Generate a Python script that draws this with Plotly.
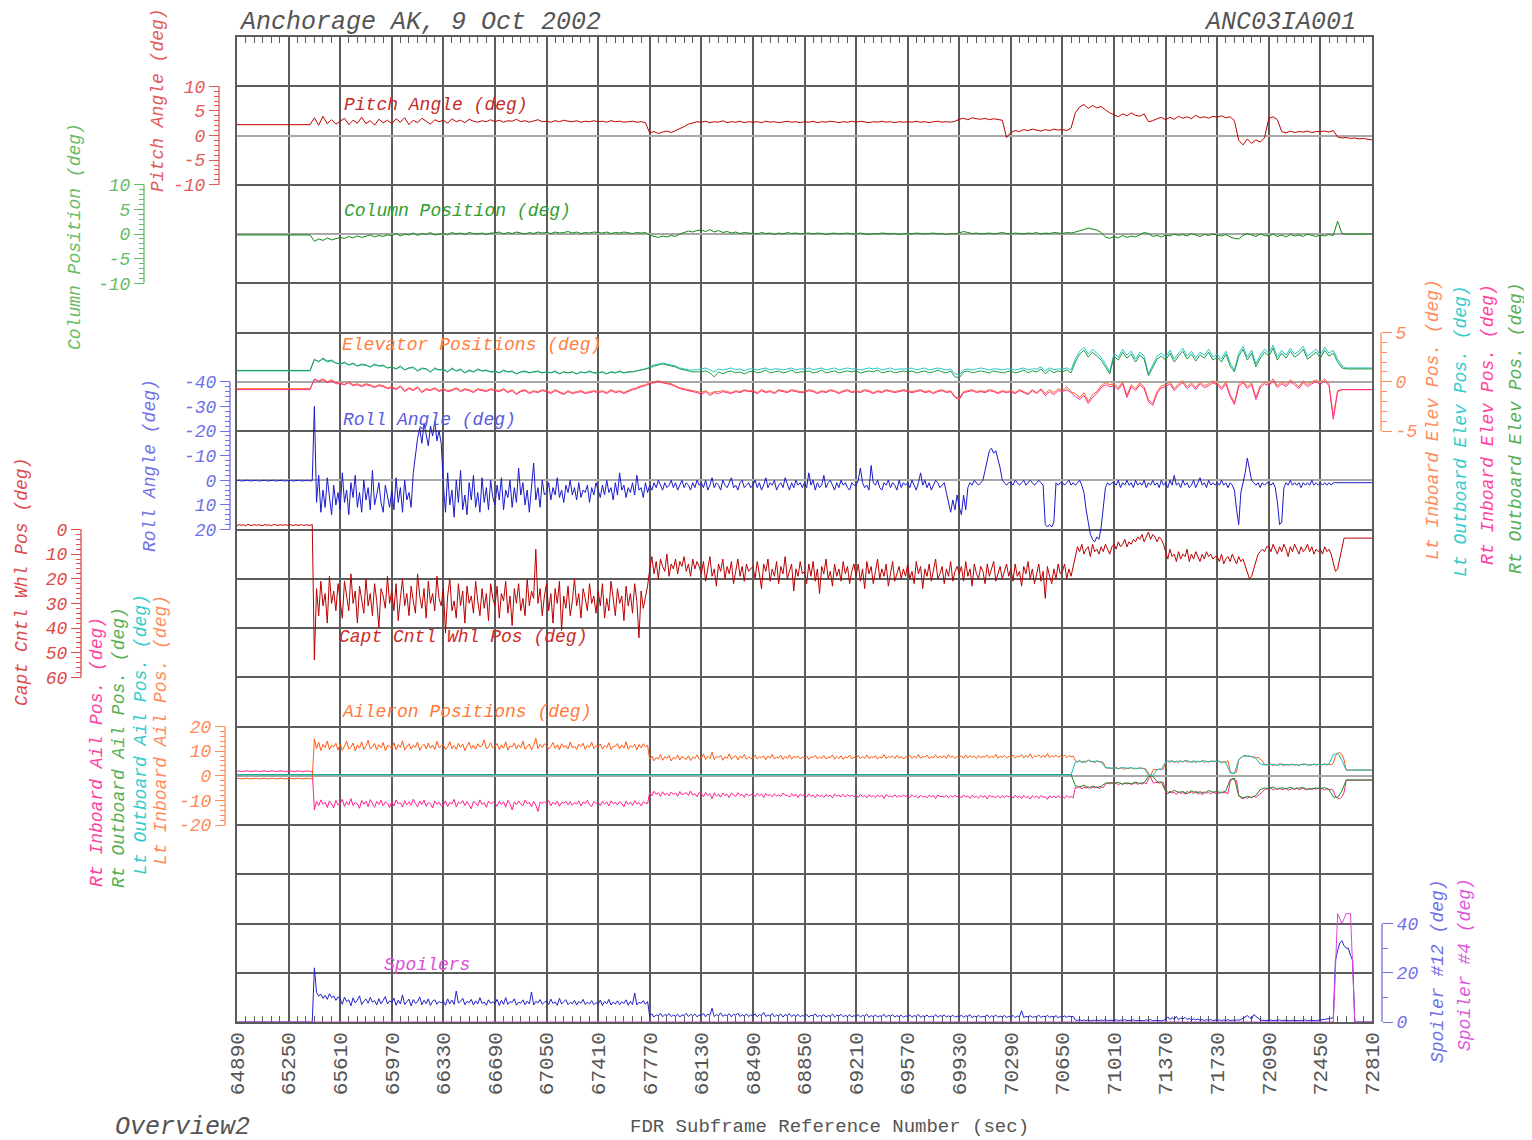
import plotly.graph_objects as go

# ---------------- data ----------------
# Two FDR sample spacings are used: 30 s for the smoother parameters and 15 s for the
# noisier ones. Each row of a list covers one 360-s grid cell.
T0 = 64890
STEP_SLOW = 30
STEP_FAST = 15
x_tick_vals = list(range(64890, 72811, 360))

pitch_deg = [  # 30 s
2.2,2.2,2.2,2.2,2.2,2.2,2.2,2.2,2.2,2.2,2.2,2.2,
2.2,2.2,2.2,2.2,2.2,2.2,3.6,2.1,3.9,2.4,3.2,2.3,
2.9,3.5,2.2,3.1,2.5,3.7,2.4,3.0,2.1,3.3,2.6,3.1,
2.4,3.4,2.7,3.6,2.2,3.1,2.6,3.5,2.9,2.3,3.2,2.8,
3.1,2.5,3.4,2.8,3.1,2.6,3.3,2.9,2.7,3.0,2.8,3.2,
2.8,3.1,2.7,3.0,2.9,3.3,2.8,3.0,2.7,2.9,3.2,2.8,
2.9,2.7,3.0,2.8,3.1,2.9,2.8,3.0,2.7,2.9,2.8,3.0,
2.8,2.9,2.7,3.0,2.8,2.9,2.7,2.8,2.9,2.7,2.8,2.6,
0.5,0.8,0.4,0.7,0.9,0.6,1.0,1.3,1.8,2.3,2.6,2.8,
2.7,2.9,2.6,2.8,2.7,3.0,2.6,2.8,2.7,2.9,2.6,2.8,
2.7,2.8,2.6,2.9,2.7,2.8,2.6,2.7,2.9,2.7,2.8,2.6,
2.8,2.7,2.9,2.6,2.8,2.7,2.9,2.8,2.6,2.8,2.7,2.9,
2.7,2.9,2.8,2.6,2.8,2.7,2.9,2.7,2.8,2.6,2.8,2.7,
2.8,2.7,2.9,2.7,2.8,2.6,2.8,2.9,2.7,2.8,2.7,2.9,
3.3,3.5,3.2,3.6,3.4,3.3,3.5,3.2,3.4,3.3,3.1,-0.4,
0.6,1.0,0.8,1.2,1.0,1.3,1.1,0.9,1.2,1.0,1.3,1.1,
1.2,1.0,1.5,4.6,5.8,6.3,5.5,6.1,5.6,5.9,5.2,4.6,
4.2,3.8,4.4,4.0,4.6,4.1,3.9,4.4,2.8,3.0,3.4,3.7,
3.2,3.7,3.3,3.9,3.5,3.8,3.4,4.1,3.6,3.8,3.5,3.9,
3.7,4.0,3.6,3.8,3.0,-1.0,-1.9,-0.7,-1.6,-0.9,-1.3,-0.5,
3.5,3.8,3.2,0.8,0.5,0.9,0.6,0.8,0.7,0.9,0.6,0.8,
0.8,0.9,0.7,1.0,-0.3,-0.5,-0.4,-0.6,-0.5,-0.7,-0.6,-0.8,
-0.9]

column_deg = [  # 30 s
-0.2,-0.2,-0.2,-0.2,-0.2,-0.2,-0.2,-0.2,-0.2,-0.2,-0.2,-0.2,
-0.2,-0.2,-0.2,-0.2,-0.2,-0.2,-1.5,-1.0,-1.3,-0.8,-1.2,-0.9,
-0.7,-0.9,-0.5,-0.8,-0.4,-0.7,-0.5,-0.2,-0.6,-0.3,-0.5,-0.2,
-0.3,0.1,-0.4,0.0,-0.2,0.2,-0.3,0.1,-0.1,0.3,-0.2,0.0,
0.1,-0.2,0.3,0.0,0.2,-0.1,0.3,0.1,0.0,0.2,-0.1,0.2,
0.2,0.4,0.0,0.3,0.1,0.4,0.2,0.0,0.3,0.1,0.4,0.2,
0.3,0.1,0.4,0.2,0.3,0.5,0.2,0.4,0.1,0.3,0.2,0.4,
0.3,0.2,0.4,0.1,0.3,0.2,0.4,0.3,0.1,0.3,0.2,0.3,
-0.2,-0.5,-0.7,-0.4,-0.6,-0.3,-0.5,0.0,0.3,0.6,0.4,0.7,
0.8,0.5,0.9,0.4,0.7,0.3,0.5,0.2,0.4,0.1,0.3,0.2,
0.2,0.0,0.3,0.1,0.2,-0.1,0.2,0.0,0.3,0.1,0.2,0.0,
0.1,0.2,0.0,0.2,0.1,-0.1,0.1,0.2,0.0,0.1,0.2,0.0,
0.0,0.2,0.1,-0.1,0.1,0.0,0.2,0.1,0.0,0.1,-0.1,0.1,
0.1,0.0,0.2,0.1,0.0,0.1,0.2,0.0,0.1,-0.1,0.1,0.0,
0.2,0.5,0.3,0.1,0.2,0.0,0.1,0.2,0.0,0.1,0.3,0.1,
0.0,0.2,0.1,0.0,0.2,0.1,0.3,0.0,0.2,0.1,0.3,0.2,
0.1,0.3,0.2,0.4,0.6,0.9,1.2,1.0,0.8,0.3,-0.6,-0.9,
-0.5,-0.8,-0.3,-0.7,-0.4,-0.6,-0.2,0.3,0.1,-0.5,-0.3,-0.6,
-0.2,-0.4,0.0,-0.3,-0.1,-0.4,0.1,-0.2,-0.5,-0.1,-0.3,0.0,
-0.2,-0.4,-0.1,-0.6,-0.9,-1.0,-0.3,0.1,-0.2,-0.5,0.0,-0.3,
-0.4,0.0,-0.5,-0.2,-0.6,-0.1,-0.4,-0.2,-0.5,0.0,-0.3,-0.5,
-0.2,-0.4,-0.1,-0.3,2.6,0.1,0.0,0.0,0.0,0.0,0.0,0.0,
0.0]

elev_rt_outboard = [  # 30 s
1.15,1.15,1.15,1.15,1.15,1.15,1.15,1.15,1.15,1.15,1.15,1.15,
1.15,1.15,1.15,1.15,1.15,1.15,2.3,2.0,2.4,2.1,2.2,1.9,
1.8,2.0,1.7,1.9,1.6,1.8,1.7,1.5,1.8,1.6,1.7,1.4,
1.5,1.3,1.6,1.2,1.4,1.5,1.1,1.4,1.3,1.0,1.4,1.2,
1.3,1.0,1.4,1.1,1.3,0.9,1.2,1.0,1.3,1.1,1.2,1.0,
1.1,0.9,1.2,1.0,1.1,0.8,1.0,1.1,0.9,1.0,1.1,0.9,
1.0,0.9,1.1,0.8,1.0,0.9,1.0,0.8,1.0,0.9,1.1,0.9,
0.9,1.0,0.8,1.0,0.9,1.1,0.9,1.0,1.0,1.1,1.2,1.3,
1.4,1.6,1.7,1.8,1.7,1.6,1.5,1.3,1.2,1.1,1.0,1.0,
1.0,1.1,0.9,0.5,1.0,0.8,1.0,1.1,0.9,1.0,0.8,1.0,
1.1,0.9,1.0,1.2,0.9,1.0,1.1,0.9,1.0,1.2,0.9,1.0,
1.0,1.1,0.9,1.0,1.2,0.9,1.0,1.1,0.9,1.0,1.1,1.0,
1.1,0.9,1.0,1.1,1.0,1.2,0.9,1.0,1.1,0.9,1.0,1.1,
1.0,1.1,0.9,1.0,1.1,0.9,1.0,1.2,1.0,0.9,1.1,0.5,
0.4,1.0,1.1,0.9,1.0,1.1,1.0,0.9,1.1,1.0,0.9,1.0,
1.1,0.9,1.0,1.2,0.9,1.1,1.0,1.3,0.8,1.2,0.9,1.1,
1.0,1.2,0.9,2.0,2.8,3.2,2.5,3.0,2.6,2.2,1.5,0.8,
2.6,2.2,3.0,2.4,2.8,2.0,2.7,2.3,0.6,1.4,2.3,2.6,
2.2,2.9,2.0,2.6,3.1,2.3,2.8,2.1,2.7,2.4,3.0,2.2,
2.5,2.0,2.8,1.6,1.0,2.6,3.3,2.2,2.9,1.5,2.4,3.0,
2.6,3.4,2.2,2.9,2.4,3.1,2.5,2.8,3.3,2.3,2.7,3.0,
2.4,3.2,2.6,2.9,2.0,1.4,1.3,1.3,1.3,1.3,1.3,1.3,
1.3]

elev_lt_outboard = [  # 30 s
1.1,1.1,1.1,1.1,1.1,1.1,1.1,1.1,1.1,1.1,1.1,1.1,
1.1,1.1,1.1,1.1,1.1,1.1,2.2,2.1,2.3,2.0,2.1,1.9,
1.8,1.9,1.7,1.8,1.6,1.7,1.7,1.5,1.7,1.6,1.6,1.4,
1.5,1.3,1.5,1.2,1.4,1.4,1.1,1.3,1.3,1.0,1.3,1.2,
1.2,1.0,1.3,1.1,1.2,0.9,1.1,1.0,1.2,1.1,1.1,1.0,
1.0,0.9,1.1,1.0,1.0,0.8,1.0,1.0,0.9,1.0,1.0,0.9,
1.0,0.9,1.0,0.8,1.0,0.9,1.0,0.8,1.0,0.9,1.0,0.9,
0.9,1.0,0.8,1.0,0.9,1.0,0.9,1.0,1.0,1.1,1.2,1.3,
1.5,1.7,1.8,1.9,1.8,1.7,1.6,1.4,1.3,1.2,1.2,1.2,
1.3,1.4,1.2,1.0,1.3,1.2,1.3,1.4,1.2,1.3,1.1,1.3,
1.3,1.2,1.3,1.4,1.2,1.3,1.3,1.2,1.3,1.4,1.2,1.3,
1.3,1.4,1.2,1.3,1.4,1.2,1.3,1.4,1.2,1.3,1.4,1.3,
1.3,1.2,1.3,1.4,1.3,1.4,1.2,1.3,1.4,1.2,1.3,1.3,
1.3,1.4,1.2,1.3,1.4,1.2,1.3,1.4,1.3,1.2,1.3,0.8,
0.7,1.2,1.3,1.2,1.3,1.4,1.3,1.2,1.3,1.3,1.2,1.3,
1.3,1.2,1.3,1.4,1.2,1.3,1.3,1.5,1.1,1.4,1.2,1.3,
1.3,1.4,1.2,2.3,3.1,3.5,2.8,3.3,2.9,2.5,1.8,1.0,
2.9,2.5,3.3,2.7,3.1,2.3,3.0,2.6,0.8,1.7,2.6,2.9,
2.5,3.2,2.3,2.9,3.4,2.6,3.1,2.4,3.0,2.7,3.3,2.5,
2.8,2.3,3.1,1.9,1.2,2.9,3.6,2.5,3.2,1.8,2.7,3.3,
2.9,3.7,2.5,3.2,2.7,3.4,2.8,3.1,3.6,2.6,3.0,3.3,
2.7,3.5,2.9,3.2,2.3,1.6,1.4,1.4,1.4,1.4,1.4,1.4,
1.4]

elev_rt_inboard = [  # 30 s
-0.8,-0.8,-0.8,-0.8,-0.8,-0.8,-0.8,-0.8,-0.8,-0.8,-0.8,-0.8,
-0.8,-0.8,-0.8,-0.8,-0.8,-0.8,0.3,0.0,0.2,-0.1,0.1,-0.2,
-0.2,-0.3,-0.1,-0.4,-0.3,-0.5,-0.3,-0.4,-0.6,-0.4,-0.5,-0.7,
-0.6,-0.8,-0.5,-1.0,-0.7,-0.9,-0.6,-1.1,-0.8,-0.9,-0.7,-1.0,
-0.8,-1.0,-0.9,-0.7,-1.0,-0.8,-0.9,-1.1,-0.8,-0.9,-1.0,-0.8,
-0.9,-1.0,-0.8,-1.1,-0.9,-1.3,-1.0,-0.9,-1.2,-1.0,-1.1,-0.9,
-1.0,-1.2,-0.9,-1.1,-1.3,-1.0,-1.2,-1.1,-1.0,-1.2,-1.1,-1.0,
-1.1,-1.0,-1.2,-0.9,-1.1,-1.0,-1.2,-1.0,-0.8,-0.7,-0.5,-0.4,
-0.2,-0.1,0.0,-0.1,-0.2,-0.3,-0.5,-0.7,-0.8,-0.9,-1.0,-1.1,
-1.3,-1.0,-1.4,-1.1,-1.2,-1.0,-1.1,-1.2,-1.0,-1.1,-0.9,-1.0,
-1.0,-1.2,-0.9,-1.1,-1.0,-1.2,-0.9,-1.0,-1.1,-0.9,-1.0,-1.1,
-1.1,-0.9,-1.0,-1.2,-1.0,-1.1,-0.9,-1.0,-1.2,-1.0,-0.9,-1.1,
-1.0,-1.1,-0.9,-1.0,-1.2,-1.0,-1.1,-0.9,-1.0,-1.1,-1.0,-0.9,
-1.0,-1.1,-1.0,-0.9,-1.1,-1.0,-1.2,-1.0,-0.9,-1.1,-1.0,-1.6,
-1.8,-1.1,-1.0,-0.9,-1.1,-1.0,-1.1,-0.9,-1.0,-1.2,-1.0,-1.1,
-1.0,-1.2,-0.9,-1.1,-1.3,-0.9,-1.2,-0.8,-1.4,-1.0,-1.3,-0.9,
-1.0,-0.8,-1.1,-1.5,-1.8,-1.4,-2.2,-1.6,-1.2,-0.6,-0.3,-0.5,
-0.4,-0.8,-0.2,-1.6,-0.5,-0.9,-0.3,-0.7,-2.0,-2.4,-1.2,-0.6,
-0.5,-0.2,-0.9,-0.4,-0.1,-0.7,-0.3,-0.8,-0.2,-0.6,-0.4,-0.1,
-0.3,-0.8,-0.2,-1.5,-2.3,-0.5,-0.1,-0.7,-0.3,-1.8,-0.6,-0.2,
-0.4,0.1,-0.6,-0.2,-0.5,0.0,-0.3,-0.7,-0.1,-0.5,-0.2,0.0,
-0.3,0.1,-0.4,-3.8,-1.0,-0.8,-0.8,-0.8,-0.8,-0.8,-0.8,-0.8,
-0.8]

elev_lt_inboard = [  # 30 s
-0.7,-0.7,-0.7,-0.7,-0.7,-0.7,-0.7,-0.7,-0.7,-0.7,-0.7,-0.7,
-0.7,-0.7,-0.7,-0.7,-0.7,-0.7,0.2,0.1,0.3,0.0,0.2,-0.1,
-0.1,-0.3,0.0,-0.3,-0.2,-0.4,-0.2,-0.3,-0.5,-0.3,-0.4,-0.6,
-0.5,-0.7,-0.4,-0.9,-0.6,-0.8,-0.5,-1.0,-0.7,-0.8,-0.6,-0.9,
-0.7,-0.9,-0.8,-0.6,-0.9,-0.7,-0.8,-1.0,-0.7,-0.8,-0.9,-0.7,
-0.8,-0.9,-0.7,-1.0,-0.8,-1.2,-0.9,-0.8,-1.1,-0.9,-1.0,-0.8,
-0.9,-1.1,-0.8,-1.0,-1.2,-0.9,-1.1,-1.0,-0.9,-1.1,-1.0,-0.9,
-1.0,-0.9,-1.1,-0.8,-1.0,-0.9,-1.1,-0.9,-0.7,-0.6,-0.4,-0.3,
-0.1,0.0,0.1,0.0,-0.1,-0.2,-0.4,-0.6,-0.7,-0.8,-0.9,-1.0,
-1.1,-0.9,-1.2,-1.0,-1.0,-0.9,-1.0,-1.1,-0.9,-1.0,-0.8,-0.9,
-0.9,-1.1,-0.8,-1.0,-0.9,-1.1,-0.8,-0.9,-1.0,-0.8,-0.9,-1.0,
-1.0,-0.8,-0.9,-1.1,-0.9,-1.0,-0.8,-0.9,-1.1,-0.9,-0.8,-1.0,
-0.9,-1.0,-0.8,-0.9,-1.1,-0.9,-1.0,-0.8,-0.9,-1.0,-0.9,-0.8,
-0.9,-1.0,-0.9,-0.8,-1.0,-0.9,-1.1,-0.9,-0.8,-1.0,-0.9,-1.5,
-1.7,-1.0,-0.9,-0.8,-1.0,-0.9,-1.0,-0.8,-0.9,-1.1,-0.9,-1.0,
-0.9,-1.1,-0.8,-1.0,-1.2,-0.8,-1.1,-0.7,-1.2,-0.8,-1.1,-0.7,
-0.9,-0.5,-1.0,-1.2,-1.6,-1.1,-2.0,-1.3,-1.0,-0.4,-0.1,-0.3,
-0.2,-0.6,0.0,-1.4,-0.3,-0.7,-0.1,-0.5,-1.8,-2.2,-1.0,-0.4,
-0.3,0.0,-0.7,-0.2,0.1,-0.5,-0.1,-0.6,0.0,-0.4,-0.2,0.1,
-0.1,-0.6,0.0,-1.3,-2.1,-0.3,0.1,-0.5,-0.1,-1.6,-0.4,0.0,
-0.2,0.3,-0.4,0.0,-0.3,0.2,-0.1,-0.5,0.1,-0.3,0.0,0.2,
-0.1,0.3,-0.2,-3.5,-0.9,-0.8,-0.8,-0.8,-0.8,-0.8,-0.8,-0.8,
-0.8]

roll_deg = [  # 15 s
0.2,0.0,0.3,0.1,0.2,0.0,0.3,0.1,0.2,0.0,0.3,0.1,0.2,0.0,0.3,0.1,0.2,0.0,0.3,0.1,0.2,0.0,0.3,0.1,
0.2,0.0,0.3,0.1,0.2,0.0,0.3,0.1,0.2,0.0,0.3,0.1,-30,9,-2,13,4,11,-1,8,14,2,10,5,
12,-3,9,4,14,1,7,-2,11,5,13,0,8,3,12,-4,10,6,1,9,13,2,7,11,
4,12,-1,9,3,13,0,8,5,11,-3,-10,-17,-21,-15,-23,-19,-14,-22,-18,-24,-16,-20,-15,
2,13,-3,10,4,15,0,9,-4,12,6,14,1,8,-2,11,5,13,-1,9,3,12,0,7,
10,2,8,-1,12,4,7,0,11,3,9,-5,6,1,10,4,13,2,-7,8,3,11,0,6,
5,1,8,3,6,-1,7,4,9,2,5,0,6,3,8,1,7,4,5,2,9,3,6,1,
4,7,2,6,0,5,3,8,1,6,-3,4,2,7,3,5,1,6,-2,4,3,7,1,5,
2,4,1,3,0,2,4,1,3,2,0,3,1,4,2,0,3,1,2,4,1,3,0,2,
1,3,0,4,2,-1,3,1,2,4,0,2,3,1,-1,3,2,4,1,0,3,2,1,3,
2,0,3,1,4,2,-1,3,1,2,0,4,2,1,3,-1,2,4,1,3,0,2,1,3,
1,3,-3,2,0,4,1,3,2,-2,3,1,0,2,4,1,3,0,2,1,3,4,1,2,
2,0,-5,1,3,2,4,-6,1,2,0,3,4,1,2,0,3,1,2,4,0,3,1,2,
1,3,0,2,4,1,-3,2,0,3,1,4,2,0,1,3,2,1,5,9,13,8,12,6,
11,14,6,12,3,1,2,0,1,2,1,0,-4,-8,-12,-13,-11,-12,-9,-5,0,1,2,1,
1,2,0,1,2,1,0,2,1,0,1,2,1,0,1,2,18,19,18,19,17,1,2,1,
1,2,1,0,2,1,2,1,0,2,5,12,18,22,24,25,23,24,19,10,3,1,2,1,
1,2,0,3,1,2,0,2,1,3,0,2,1,2,0,3,1,2,0,2,1,3,0,2,
1,3,0,2,-2,2,1,3,0,2,1,3,2,0,3,1,-1,2,1,3,0,2,1,2,
1,2,0,2,1,3,1,2,4,12,18,5,1,-3,-9,-5,0,1,2,1,3,1,2,1,
1,2,1,3,9,18,17,3,1,2,0,2,1,2,1,3,1,2,1,2,0,2,1,2,
1,2,1,2,1,2,1,1,1,1,1,1,1,1,1,1,1,1,1,1,1,1,1,1,
1]

capt_wheel_deg = [  # 15 s
-1.6,-2.0,-1.7,-1.9,-1.5,-2.1,-1.8,-1.6,-2.0,-1.7,-1.9,-1.8,-1.6,-2.0,-1.7,-1.9,-1.5,-2.1,-1.8,-1.6,-2.0,-1.7,-1.9,-1.8,
-1.7,-2.0,-1.6,-1.9,-1.8,-1.7,-2.0,-1.6,-1.9,-1.8,-1.7,-2.0,53,24,35,21,31,26,38,19,30,25,33,22,
29,36,21,27,33,18,30,25,38,23,28,34,20,31,26,35,22,29,40,24,27,32,19,30,
25,33,22,37,28,20,31,26,35,23,29,34,18,27,32,24,36,21,30,26,33,19,28,31,
24,42,27,20,33,29,36,22,31,25,38,23,30,27,34,21,29,35,24,32,26,37,22,28,
31,23,36,26,29,21,34,27,39,24,30,22,33,28,35,20,31,25,28,8,30,24,35,27,
22,33,26,38,24,30,21,41,27,32,23,35,29,20,31,26,36,24,28,33,22,30,27,34,
25,31,22,36,28,33,21,29,35,24,30,27,37,23,31,26,34,22,29,44,25,32,27,23,
16,11,18,13,20,12,15,17,10,19,14,16,12,18,13,15,11,17,14,19,12,16,13,15,
18,13,21,15,11,19,16,23,14,17,12,20,15,18,13,22,16,12,19,15,21,14,17,16,
15,20,13,18,24,14,17,12,21,16,19,13,22,15,18,11,20,17,14,25,16,19,13,18,
17,22,14,19,13,21,16,26,15,18,12,20,17,23,14,19,16,21,13,18,15,22,17,14,
19,14,21,16,24,13,18,15,22,17,12,20,16,19,14,23,17,13,21,18,15,20,16,19,
14,20,17,22,13,18,15,24,16,19,14,21,17,12,20,18,15,22,16,19,13,21,17,15,
18,15,21,13,19,16,23,14,18,20,15,17,22,14,19,16,13,21,18,15,20,17,14,19,
16,21,14,19,17,23,15,18,13,20,16,22,18,14,21,17,28,15,19,22,16,20,14,18,
17,14,20,16,19,15,10,7,9,6,10,8,7,11,6,9,8,10,7,9,6,8,10,7,
6,8,5,7,6,4,7,5,6,4,5,3,4,2,5,3,1,4,2,3,5,3,4,6,
9,12,8,11,10,13,9,12,10,11,8,13,10,12,9,11,13,10,12,9,11,10,12,11,
11,13,10,14,12,11,13,10,12,14,11,13,12,15,18,20,19,16,14,10,9,8,9,7,
7,9,6,8,10,7,9,6,8,11,7,9,6,8,10,7,9,8,6,9,7,10,8,9,
8,10,7,9,8,10,14,17,16,12,8,3.5,3.5,3.5,3.5,3.5,3.5,3.5,3.5,3.5,3.5,3.5,3.5,3.5,
3.5]

ail_lt_inboard = [  # 15 s
-1.2,-1.0,-1.3,-1.1,-1.2,-1.0,-1.3,-1.1,-1.2,-1.0,-1.3,-1.1,-1.2,-1.0,-1.3,-1.1,-1.2,-1.0,-1.3,-1.1,-1.2,-1.0,-1.3,-1.1,
-1.2,-1.0,-1.3,-1.1,-1.2,-1.0,-1.3,-1.1,-1.2,-1.0,-1.3,-1.1,15.0,11.0,13.6,10.2,12.8,11.4,14.1,10.6,12.3,11.8,13.2,10.4,
12.9,10.3,12.1,14.0,10.8,11.6,13.3,10.1,12.5,11.2,13.8,10.7,12.0,14.4,10.9,11.7,13.1,10.5,12.6,11.3,13.5,10.2,12.2,11.9,
11.1,13.4,10.6,12.7,11.5,14.2,10.4,12.0,13.0,10.8,12.4,11.6,13.7,10.3,11.9,12.8,10.9,13.3,11.2,12.5,10.6,14.0,11.4,12.1,
12.6,10.5,11.8,13.9,11.0,12.3,10.7,13.2,11.5,12.9,10.2,12.0,13.6,11.1,12.4,10.8,13.0,11.7,12.2,14.6,10.9,11.6,13.4,11.3,
11.9,13.1,10.6,12.5,11.2,13.8,10.4,12.1,11.7,13.3,10.9,12.6,11.4,14.1,10.7,11.8,12.9,10.5,12.3,15.2,11.0,12.7,11.5,13.0,
12.2,10.8,11.9,13.5,11.1,12.6,10.5,13.0,11.6,12.3,10.9,13.7,11.3,12.0,10.6,12.8,11.8,13.2,10.7,12.4,11.5,13.6,11.0,12.1,
11.7,12.9,10.8,12.3,11.4,13.4,10.6,12.0,11.9,13.1,10.9,12.5,11.2,13.8,10.7,12.2,11.6,12.8,10.5,12.7,11.3,13.0,11.8,12.4,
6.5,8.0,6.1,7.4,6.8,8.6,6.3,7.7,7.1,8.2,6.0,7.5,6.9,8.4,6.4,7.8,7.2,6.6,8.1,6.2,7.6,7.0,8.5,6.7,
7.3,8.8,6.6,7.9,7.0,9.6,6.5,7.8,7.4,8.3,6.3,7.6,7.1,8.9,6.8,7.5,8.2,6.4,7.9,7.2,8.6,6.7,7.7,7.0,
7.1,8.4,6.8,7.7,7.4,8.1,6.5,8.0,7.2,8.7,6.9,7.5,7.3,8.3,6.6,7.9,7.0,8.5,6.7,7.8,7.4,8.0,6.9,7.6,
7.2,8.0,6.6,7.8,7.3,8.3,6.9,7.6,7.1,8.2,6.8,7.5,7.4,8.5,6.7,7.9,7.0,8.1,6.6,7.7,7.3,8.4,6.9,7.5,
7.3,8.2,6.9,7.9,7.1,8.5,7.0,7.7,7.4,8.1,6.8,7.6,7.2,8.6,6.9,7.8,7.5,8.0,7.0,8.3,7.1,7.9,6.8,7.7,
7.5,8.3,7.0,8.0,7.2,8.7,7.1,7.8,7.6,8.4,7.0,7.7,7.3,8.5,7.2,7.9,7.4,8.2,7.0,8.6,7.5,8.0,7.1,7.8,
7.4,8.1,7.1,8.5,7.2,8.2,7.5,7.9,7.0,8.3,7.3,7.8,7.6,8.4,7.2,8.0,7.4,8.7,7.1,7.9,7.5,8.2,7.3,7.8,
7.6,8.4,7.2,8.0,7.7,8.6,7.3,8.1,7.5,8.9,7.2,8.0,7.8,8.5,7.4,8.2,7.6,9.0,7.3,8.1,7.7,8.4,7.5,8.0,
7.6,8.5,7.3,8.2,7.7,8.0,6.2,5.6,6.3,5.3,6.0,5.5,6.4,5.7,5.9,5.2,6.1,5.6,5.8,5.4,3.3,3.0,3.2,2.9,
3.0,3.4,2.8,3.2,3.0,2.6,3.1,2.9,3.3,2.7,3.1,2.9,3.2,2.8,3.0,2.6,1.0,-0.2,2.2,2.6,2.4,2.7,2.5,2.8,
5.4,5.9,5.3,6.2,5.6,5.9,5.2,6.0,5.5,6.3,5.4,5.8,5.7,6.1,5.3,5.9,5.6,6.2,5.4,5.8,5.5,6.0,5.7,5.9,
5.6,6.0,5.2,5.8,5.5,6.1,2.0,0.8,1.2,1.5,6.5,7.4,8.0,8.3,7.9,8.1,7.6,7.8,7.2,7.5,6.8,6.0,4.6,4.3,
4.3,4.8,4.0,4.6,4.2,4.9,4.4,4.1,4.7,4.3,4.5,4.8,4.2,4.6,4.0,4.7,4.4,4.9,4.1,4.5,4.3,4.8,4.2,4.6,
4.2,4.6,4.9,4.3,4.7,4.5,5.2,8.0,9.2,9.4,8.6,6.5,2.3,2.3,2.3,2.3,2.3,2.3,2.3,2.3,2.3,2.3,2.3,2.3,
2.3]

ail_rt_inboard = [  # 15 s
1.8,2.0,1.7,1.9,1.8,2.0,1.7,1.9,1.8,2.0,1.7,1.9,1.8,2.0,1.7,1.9,1.8,2.0,1.7,1.9,1.8,2.0,1.7,1.9,
1.8,2.0,1.7,1.9,1.8,2.0,1.7,1.9,1.8,2.0,1.7,1.9,-13.8,-10.4,-12.1,-9.8,-11.6,-10.7,-12.9,-10.2,-11.4,-13.0,-10.0,-11.8,
-11.2,-9.6,-12.4,-10.5,-11.9,-9.3,-12.1,-10.8,-11.4,-13.2,-10.0,-11.6,-10.3,-12.5,-9.7,-11.1,-12.8,-10.4,-11.7,-9.9,-12.2,-10.6,-11.3,-12.9,
-10.5,-12.3,-9.8,-11.4,-10.9,-12.7,-10.1,-11.8,-10.6,-12.0,-9.5,-11.2,-12.6,-10.3,-11.7,-9.9,-12.4,-10.8,-11.3,-13.1,-10.2,-11.6,-10.7,-12.2,
-11.9,-10.2,-12.5,-10.8,-11.5,-9.6,-12.6,-10.7,-11.3,-10.1,-12.1,-10.5,-11.8,-13.4,-10.4,-11.1,-12.3,-9.8,-11.6,-10.9,-12.8,-10.3,-11.4,-10.6,
-11.1,-12.4,-10.3,-11.7,-10.5,-12.8,-10.0,-11.4,-13.9,-10.6,-11.8,-10.2,-11.5,-12.2,-9.9,-11.3,-10.8,-12.6,-10.4,-11.9,-14.5,-10.7,-11.2,-10.5,
-11.4,-10.1,-12.2,-10.7,-11.6,-10.3,-12.4,-10.8,-11.1,-10.4,-11.9,-10.5,-12.0,-10.9,-11.5,-10.2,-12.3,-10.6,-11.3,-10.0,-11.8,-12.5,-10.4,-11.2,
-10.9,-12.1,-10.4,-11.5,-10.6,-12.3,-10.2,-11.3,-10.8,-11.9,-10.5,-11.2,-12.6,-10.3,-11.7,-10.7,-12.0,-10.1,-11.4,-10.9,-12.2,-10.6,-11.1,-11.3,
-6.7,-8.1,-6.3,-7.5,-6.9,-8.4,-6.5,-7.8,-7.1,-8.2,-6.6,-7.6,-7.0,-8.3,-6.4,-7.7,-7.3,-6.8,-8.0,-6.2,-7.9,-7.2,-8.5,-6.8,
-7.2,-8.6,-6.8,-8.1,-7.3,-9.3,-6.9,-8.3,-7.4,-8.7,-7.0,-8.1,-7.5,-8.9,-7.1,-7.8,-8.4,-6.9,-8.0,-7.6,-8.8,-7.2,-8.2,-7.7,
-7.5,-8.5,-7.1,-8.2,-7.4,-8.8,-7.2,-8.1,-7.6,-8.6,-7.3,-8.3,-7.7,-8.4,-7.0,-8.0,-7.8,-8.7,-7.2,-8.3,-7.5,-8.9,-7.4,-8.1,
-7.7,-8.7,-7.3,-8.4,-7.8,-8.9,-7.5,-8.5,-7.9,-8.8,-7.6,-8.4,-7.8,-9.0,-7.4,-8.2,-8.0,-8.6,-7.5,-8.7,-7.7,-8.3,-7.9,-8.5,
-7.9,-8.8,-7.5,-8.5,-8.0,-9.0,-7.7,-8.6,-8.1,-8.9,-7.8,-8.5,-7.9,-9.2,-7.6,-8.4,-8.2,-8.7,-7.7,-8.8,-8.0,-8.6,-7.8,-8.4,
-8.0,-8.9,-7.7,-8.6,-8.1,-9.1,-7.8,-8.7,-8.2,-9.0,-7.9,-8.6,-8.0,-9.3,-7.8,-8.5,-8.3,-8.8,-7.9,-8.9,-8.1,-8.7,-8.0,-8.5,
-8.1,-9.0,-7.8,-8.7,-8.2,-9.2,-7.9,-8.8,-8.3,-9.1,-8.0,-8.7,-8.1,-9.4,-7.9,-8.6,-8.4,-8.9,-8.0,-9.0,-8.2,-8.8,-8.1,-8.6,
-8.2,-9.1,-7.9,-8.8,-8.3,-9.3,-8.0,-8.9,-8.4,-9.5,-8.1,-8.8,-8.2,-9.2,-8.0,-8.7,-8.5,-9.6,-8.1,-8.9,-8.3,-9.0,-8.2,-8.7,
-8.3,-9.2,-8.0,-8.9,-8.4,-9.0,-4.6,-5.1,-4.2,-5.4,-4.5,-5.0,-4.3,-5.2,-4.7,-4.9,-4.4,-5.3,-4.6,-4.8,-3.4,-3.0,-3.3,-2.9,
-3.3,-2.9,-3.7,-3.1,-3.5,-2.8,-3.4,-3.0,-3.6,-3.2,-2.9,-3.5,-3.1,-3.4,-2.8,-3.3,-1.2,-0.4,-2.6,-2.9,-2.7,-3.0,-2.5,-2.8,
-6.5,-7.4,-6.2,-7.1,-6.7,-7.6,-6.4,-7.2,-6.8,-7.5,-6.3,-7.0,-6.6,-7.3,-6.1,-7.4,-6.9,-7.7,-6.4,-7.1,-6.7,-7.5,-6.5,-7.2,
-6.7,-7.2,-6.5,-7.0,-6.8,-7.3,-2.5,-1.2,-1.6,-2.0,-7.8,-8.9,-9.4,-8.7,-9.2,-8.5,-9.0,-8.3,-8.8,-8.1,-7.5,-6.6,-5.6,-5.3,
-5.5,-4.9,-5.8,-5.2,-5.6,-5.0,-5.7,-5.3,-5.1,-5.9,-5.4,-5.2,-5.6,-4.8,-5.7,-5.3,-5.0,-5.8,-5.4,-5.1,-5.6,-5.2,-5.5,-5.0,
-5.6,-5.1,-5.9,-5.3,-5.7,-5.4,-6.0,-8.4,-9.1,-9.3,-8.5,-6.8,-1.8,-1.8,-1.8,-1.8,-1.8,-1.8,-1.8,-1.8,-1.8,-1.8,-1.8,-1.8,
-1.8]

ail_lt_outboard = [  # 30 s
0.4,0.4,0.4,0.4,0.4,0.4,0.4,0.4,0.4,0.4,0.4,0.4,
0.4,0.4,0.4,0.4,0.4,0.4,0.4,0.4,0.4,0.4,0.4,0.4,
0.4,0.4,0.4,0.4,0.4,0.4,0.4,0.4,0.4,0.4,0.4,0.4,
0.4,0.4,0.4,0.4,0.4,0.4,0.4,0.4,0.4,0.4,0.4,0.4,
0.4,0.4,0.4,0.4,0.4,0.4,0.4,0.4,0.4,0.4,0.4,0.4,
0.4,0.4,0.4,0.4,0.4,0.4,0.4,0.4,0.4,0.4,0.4,0.4,
0.4,0.4,0.4,0.4,0.4,0.4,0.4,0.4,0.4,0.4,0.4,0.4,
0.4,0.4,0.4,0.4,0.4,0.4,0.4,0.4,0.4,0.4,0.4,0.4,
0.4,0.4,0.4,0.4,0.4,0.4,0.4,0.4,0.4,0.4,0.4,0.4,
0.4,0.4,0.4,0.4,0.4,0.4,0.4,0.4,0.4,0.4,0.4,0.4,
0.4,0.4,0.4,0.4,0.4,0.4,0.4,0.4,0.4,0.4,0.4,0.4,
0.4,0.4,0.4,0.4,0.4,0.4,0.4,0.4,0.4,0.4,0.4,0.4,
0.4,0.4,0.4,0.4,0.4,0.4,0.4,0.4,0.4,0.4,0.4,0.4,
0.4,0.4,0.4,0.4,0.4,0.4,0.4,0.4,0.4,0.4,0.4,0.4,
0.4,0.4,0.4,0.4,0.4,0.4,0.4,0.4,0.4,0.4,0.4,0.4,
0.4,0.4,0.4,0.4,0.4,0.4,0.4,0.4,0.4,0.4,0.4,0.4,
0.4,0.4,0.4,5.5,5.9,5.4,6.3,5.7,6.0,5.6,3.4,3.1,
3.2,2.9,3.4,3.0,3.3,2.8,3.2,3.0,0.3,0.1,2.5,2.7,
5.6,6.1,5.5,6.0,5.8,6.2,5.4,5.9,5.7,6.1,5.6,6.0,
5.8,5.9,5.4,1.2,0.9,6.6,8.0,7.9,7.8,7.0,4.8,4.4,
4.5,4.7,4.2,4.8,4.4,4.6,4.5,4.3,4.8,4.4,4.6,4.7,
4.4,4.5,4.8,8.6,9.1,6.3,2.3,2.3,2.3,2.3,2.3,2.3,
2.3]

ail_rt_outboard = [  # 30 s
0.5,0.5,0.5,0.5,0.5,0.5,0.5,0.5,0.5,0.5,0.5,0.5,
0.5,0.5,0.5,0.5,0.5,0.5,0.5,0.5,0.5,0.5,0.5,0.5,
0.5,0.5,0.5,0.5,0.5,0.5,0.5,0.5,0.5,0.5,0.5,0.5,
0.5,0.5,0.5,0.5,0.5,0.5,0.5,0.5,0.5,0.5,0.5,0.5,
0.5,0.5,0.5,0.5,0.5,0.5,0.5,0.5,0.5,0.5,0.5,0.5,
0.5,0.5,0.5,0.5,0.5,0.5,0.5,0.5,0.5,0.5,0.5,0.5,
0.5,0.5,0.5,0.5,0.5,0.5,0.5,0.5,0.5,0.5,0.5,0.5,
0.5,0.5,0.5,0.5,0.5,0.5,0.5,0.5,0.5,0.5,0.5,0.5,
0.5,0.5,0.5,0.5,0.5,0.5,0.5,0.5,0.5,0.5,0.5,0.5,
0.5,0.5,0.5,0.5,0.5,0.5,0.5,0.5,0.5,0.5,0.5,0.5,
0.5,0.5,0.5,0.5,0.5,0.5,0.5,0.5,0.5,0.5,0.5,0.5,
0.5,0.5,0.5,0.5,0.5,0.5,0.5,0.5,0.5,0.5,0.5,0.5,
0.5,0.5,0.5,0.5,0.5,0.5,0.5,0.5,0.5,0.5,0.5,0.5,
0.5,0.5,0.5,0.5,0.5,0.5,0.5,0.5,0.5,0.5,0.5,0.5,
0.5,0.5,0.5,0.5,0.5,0.5,0.5,0.5,0.5,0.5,0.5,0.5,
0.5,0.5,0.5,0.5,0.5,0.5,0.5,0.5,0.5,0.5,0.5,0.5,
0.5,0.5,0.5,-4.0,-4.6,-3.8,-5.0,-4.2,-4.8,-4.3,-3.0,-2.8,
-3.1,-2.7,-3.4,-2.9,-3.2,-2.6,-3.1,-2.8,-0.3,-0.1,-2.4,-2.7,
-6.2,-7.0,-5.9,-6.8,-6.4,-7.3,-6.1,-6.9,-6.5,-7.1,-6.0,-6.7,
-6.4,-6.9,-6.2,-1.6,-1.0,-8.2,-9.0,-8.4,-8.8,-8.0,-5.6,-5.0,
-5.2,-4.6,-5.5,-4.9,-5.3,-4.7,-5.4,-5.0,-4.8,-5.6,-5.1,-4.9,
-5.3,-4.8,-5.6,-8.6,-8.8,-6.2,-1.7,-1.7,-1.7,-1.7,-1.7,-1.7,
-1.7]

spoiler_12 = [  # 15 s
0,0,0,0,0,0,0,0,0,0,0,0,0,0,0,0,0,0,0,0,0,0,0,0,
0,0,0,0,0,0,0,0,0,0,0,0,22,12,10.5,11.3,9.6,10.8,9.2,11.5,9.9,10.6,8.8,10.2,
9.4,7.2,10.1,8.3,9.0,6.6,9.8,7.7,8.9,10.6,7.1,8.5,9.3,7.6,10.0,8.1,8.7,6.9,9.5,7.4,8.8,10.3,7.3,8.6,
7.9,9.7,6.8,8.9,7.3,11.0,7.1,8.4,9.3,6.5,9.1,7.6,8.2,10.2,7.0,8.8,7.5,9.4,6.7,8.5,9.0,7.2,8.3,7.8,
8.5,6.8,9.4,7.4,8.9,7.1,12.6,7.7,8.3,9.7,7.0,8.4,7.8,9.2,6.9,8.6,7.3,9.9,7.5,8.1,6.8,9.0,7.6,8.2,
7.5,9.2,6.7,8.8,7.2,9.9,7.1,8.3,7.9,9.4,6.8,8.1,7.6,9.0,7.0,8.5,7.3,12.2,6.9,8.4,7.7,9.1,7.2,8.0,
8.6,7.1,9.3,7.5,8.2,6.8,9.6,7.3,8.4,9.1,7.0,8.0,7.4,8.8,6.9,8.3,7.6,9.2,7.1,8.1,7.3,8.7,7.0,7.9,
7.2,8.9,6.7,8.3,7.4,9.2,6.9,8.1,7.3,8.6,7.0,8.2,7.5,9.0,6.8,8.4,7.1,11.8,6.9,8.0,7.6,8.7,7.2,8.3,
2.3,3.3,2.0,2.9,2.5,3.6,2.1,3.0,2.6,3.4,2.2,2.8,2.4,3.2,2.0,2.9,2.6,3.5,2.2,3.1,2.5,3.3,2.1,2.8,
2.6,3.5,2.1,3.2,2.7,5.6,2.2,3.0,2.5,3.7,2.3,2.9,2.6,3.4,2.1,3.1,2.8,3.6,2.2,3.0,2.4,3.3,2.2,2.9,
2.4,3.3,2.1,3.0,2.6,3.9,2.2,2.9,2.4,3.5,2.1,2.8,2.5,3.2,2.0,3.0,2.6,3.4,2.2,2.9,2.3,3.1,2.1,2.7,
2.3,3.1,2.0,2.8,2.5,3.3,2.1,2.7,2.3,3.0,2.0,2.6,2.4,3.2,2.0,2.8,2.5,3.1,2.1,2.7,2.2,3.0,2.0,2.6,
2.2,3.0,2.0,2.7,2.4,3.2,1.9,2.6,2.2,2.9,2.0,2.5,2.3,3.1,1.9,2.7,2.4,3.0,2.0,2.6,2.2,2.8,1.9,2.5,
2.2,2.9,1.9,2.6,2.3,3.1,1.9,2.5,2.2,2.8,2.0,2.4,2.2,3.0,1.9,2.6,2.3,2.9,2.0,2.5,2.1,2.8,1.9,2.4,
2.1,2.8,1.9,2.5,2.3,3.0,1.8,2.4,2.1,2.7,1.9,2.3,2.2,2.9,1.8,2.5,2.2,2.8,1.9,2.4,2.0,2.7,1.8,2.3,
2.0,2.7,1.8,2.4,2.2,4.6,1.8,2.3,2.0,2.6,1.9,2.2,2.1,2.8,1.8,2.4,2.1,2.7,1.9,2.3,2.0,2.6,1.8,2.2,
2.0,2.5,1.9,2.4,2.1,2.3,0.8,0.6,1.0,0.5,0.8,0.6,0.9,0.5,0.7,0.6,0.9,0.5,0.8,0.6,1.0,0.5,0.7,0.6,
0.6,0.9,0.5,0.8,0.6,1.0,0.5,0.7,0.6,0.9,0.5,0.7,0.6,0.8,0.5,0.9,0.6,1.0,0.5,0.7,0.6,0.8,0.5,0.7,
1.2,2.1,1.0,1.8,1.1,2.3,0.9,1.6,1.2,1.9,1.0,1.5,0.8,1.3,0.9,1.2,0.7,1.0,0.6,0.9,0.7,1.0,0.6,0.8,
0.6,0.9,0.5,0.8,0.6,1.0,0.5,0.8,0.6,0.9,0.7,1.0,1.5,2.1,2.6,1.8,1.2,3.0,2.2,1.4,0.9,0.7,0.6,0.8,
0.6,0.8,0.5,0.7,0.6,0.9,0.5,0.7,0.6,0.8,0.5,0.7,0.6,0.8,0.5,0.7,0.6,0.9,0.5,0.7,0.6,0.8,0.5,0.7,
0.8,1.0,1.2,1.0,1.4,1.5,1.8,25,29,32,33,31,30,30,27,25,0,0,0,0,0,0,0,0,
0]

spoiler_4 = [  # 30 s
0,0,0,0,0,0,0,0,0,0,0,0,
0,0,0,0,0,0,0,0,0,0,0,0,
0,0,0,0,0,0,0,0,0,0,0,0,
0,0,0,0,0,0,0,0,0,0,0,0,
0,0,0,0,0,0,0,0,0,0,0,0,
0,0,0,0,0,0,0,0,0,0,0,0,
0,0,0,0,0,0,0,0,0,0,0,0,
0,0,0,0,0,0,0,0,0,0,0,0,
0,0,0,0,0,0,0,0,0,0,0,0,
0,0,0,0,0,0,0,0,0,0,0,0,
0,0,0,0,0,0,0,0,0,0,0,0,
0,0,0,0,0,0,0,0,0,0,0,0,
0,0,0,0,0,0,0,0,0,0,0,0,
0,0,0,0,0,0,0,0,0,0,0,0,
0,0,0,0,0,0,0,0,0,0,0,0,
0,0,0,0,0,0,0,0,0,0,0,0,
0,0,0,0,0,0,0,0,0,0,0,0,
0,0,0,0,0,0,0,0,0,0,0,0,
0,0,0,0,0,0,0,0,0,0,0,0,
0,0,0,0,0,0,0,0,0,0,0,0,
0,0,0,0,0,0,0,0,0,0,0,0,
0,0,0,0,44,40,44,44,0,0,0,0,
0]

# ---------------- styling / layout ----------------
W, H = 1532, 1140
OFF = 8                      # page body margin in the browser
PLOT_L, PLOT_R, PLOT_T, PLOT_B = 237, 1372, 37, 1022   # target pixels
N_ROWS = 20
MONO = "Liberation Mono"
GRID = "#5c5c5c"
ZERO = "#a8a8a8"
TEXT = "#555555"

def px(p):
    return (p - OFF) / W

def py(p):
    return (PLOT_B - p) / (PLOT_B - PLOT_T)

def times(values, step):
    return [T0 + i * step for i in range(len(values))]

fig = go.Figure()

def ycfg(v1, g1, v2, g2, pos_px, side, color, major, minor, zero=False):
    slope = (v2 - v1) / (g2 - g1)
    rng = [v1 - g1 * slope, v1 + (N_ROWS - g1) * slope]
    return dict(
        overlaying="y", anchor="free", position=px(pos_px), side=side, range=rng,
        tickmode="array", tickvals=major, ticktext=[str(v) for v in major],
        ticks="outside", ticklen=10, tickwidth=1.2, tickcolor=color,
        minor=dict(tickmode="array", tickvals=minor, ticks="outside", ticklen=5,
                   tickcolor=color, tickwidth=1, showgrid=False),
        tickfont=dict(family=MONO, size=18, color=color, style="italic"),
        showgrid=False, showline=False, zeroline=zero, zerolinecolor=ZERO,
        zerolinewidth=2, fixedrange=True, automargin=False,
    )

def rng_minor(a, b, step, skip):
    return [v for v in range(a, b + 1, step) if v % skip != 0]

axes = {
    "yaxis2": ycfg(10, 19, -10, 17, 219, "left", "#e05a5a", [10, 5, 0, -5, -10], rng_minor(-10, 10, 1, 5), True),
    "yaxis3": ycfg(10, 17, -10, 15, 144, "left", "#66bb66", [10, 5, 0, -5, -10], rng_minor(-10, 10, 1, 5), True),
    "yaxis4": ycfg(5, 14, -5, 12, 1381, "right", "#ff8a5a", [5, 0, -5], rng_minor(-5, 5, 1, 5), True),
    "yaxis5": ycfg(-40, 13, 20, 10, 230, "left", "#7070e8", [-40, -30, -20, -10, 0, 10, 20], rng_minor(-40, 20, 2, 10), True),
    "yaxis6": ycfg(0, 10, 60, 7, 81, "left", "#dd4a4a", [0, 10, 20, 30, 40, 50, 60], rng_minor(0, 60, 2, 10), False),
    "yaxis7": ycfg(20, 6, -20, 4, 225, "left", "#ff8a5a", [20, 10, 0, -10, -20], rng_minor(-20, 20, 2, 10), True),
    "yaxis8": ycfg(40, 2, 0, 0, 1382, "right", "#7070e8", [0, 20, 40], [10, 30], False),
}

# axis spine segments (only over the labelled span)
spans = [("y2", 219, -10, 10, "#e05a5a"), ("y3", 144, -10, 10, "#66bb66"),
         ("y4", 1381, -5, 5, "#ff8a5a"), ("y5", 230, -40, 20, "#7070e8"),
         ("y6", 81, 0, 60, "#dd4a4a"), ("y7", 225, -20, 20, "#ff8a5a"),
         ("y8", 1382, 0, 40, "#7070e8")]
shapes = [dict(type="line", xref="paper", yref=r, x0=px(p), x1=px(p), y0=a, y1=b,
               line=dict(color=c, width=1.3)) for r, p, a, b, c in spans]

# invisible trace on the base grid axes so the main subplot exists
fig.add_trace(go.Scatter(x=[T0], y=[0], mode="lines", yaxis="y",
                         line=dict(color="rgba(0,0,0,0)"), hoverinfo="skip"))

def add(y, step, axis, color, width=1.0):
    fig.add_trace(go.Scatter(x=times(y, step), y=y, yaxis=axis, mode="lines",
                             line=dict(color=color, width=width), hoverinfo="skip"))

add(pitch_deg, STEP_SLOW, "y2", "#c00000")
add(column_deg, STEP_SLOW, "y3", "#118811")
add(elev_lt_inboard, STEP_SLOW, "y4", "#ff6a2a")
add(elev_rt_inboard, STEP_SLOW, "y4", "#ff2a8a")
add(elev_lt_outboard, STEP_SLOW, "y4", "#20c8c8")
add(elev_rt_outboard, STEP_SLOW, "y4", "#229944")
add(roll_deg, STEP_FAST, "y5", "#1a1acc")
add(capt_wheel_deg, STEP_FAST, "y6", "#bb0000")
add(ail_rt_inboard, STEP_FAST, "y7", "#ff2090")
add(ail_rt_outboard, STEP_SLOW, "y7", "#1a8a1a")
add(ail_lt_inboard, STEP_FAST, "y7", "#ff5a10")
add(ail_lt_outboard, STEP_SLOW, "y7", "#10c0c0")
add(spoiler_12, STEP_FAST, "y8", "#2222cc")
add(spoiler_4, STEP_SLOW, "y8", "#dd44dd")

main_grid = [g for g in range(1, N_ROWS) if g not in (18, 16, 13, 11, 5)]

fig.update_layout(
    width=W, height=H, autosize=False,
    margin=dict(l=0, r=0, t=PLOT_T - OFF, b=H - (PLOT_B - OFF), pad=0, autoexpand=False),
    paper_bgcolor="white", plot_bgcolor="white", showlegend=False,
    xaxis=dict(domain=[px(PLOT_L), px(PLOT_R)], range=[64890, 72810],
               tickmode="array", tickvals=x_tick_vals, ticktext=[str(v) for v in x_tick_vals],
               tickangle=-90, tickfont=dict(family=MONO, size=21, color=TEXT),
               showgrid=True, gridcolor=GRID, gridwidth=1.5, zeroline=False,
               showline=True, linecolor=GRID, linewidth=1.5, mirror="allticks",
               ticks="inside", ticklen=6, tickcolor=GRID,
               minor=dict(tick0=64890, dtick=60, ticks="inside", ticklen=6,
                          tickcolor=GRID, tickwidth=1, showgrid=False),
               layer="below traces", fixedrange=True, automargin=False),
    yaxis=dict(domain=[0, 1], range=[0, N_ROWS], tickmode="array", tickvals=main_grid,
               showticklabels=False, ticks="", showgrid=True, gridcolor=GRID, gridwidth=1.5,
               zeroline=False, showline=True, linecolor=GRID, linewidth=1.5, mirror=True,
               layer="below traces", fixedrange=True, automargin=False),
    shapes=shapes,
    **axes,
)

ann = []
def text(s, x, y, color, size=18, italic=True, xanchor="left", angle=0):
    ann.append(dict(text=s, x=px(x), y=py(y), xref="paper", yref="paper",
                    xanchor=xanchor, yanchor="middle", textangle=angle, showarrow=False,
                    font=dict(family=MONO, size=size, color=color,
                              style="italic" if italic else "normal")))

# in-plot trace labels
text("Pitch Angle (deg)", 342, 105, "#c42b2b")
text("Column Position (deg)", 342, 211, "#2f9e2f")
text("Elevator Positions (deg)", 340, 345, "#ff8040")
text("Roll Angle (deg)", 341, 420, "#5a5ae0")
text("Capt Cntl Whl Pos (deg)", 337, 637, "#cc2a2a")
text("Aileron Positions (deg)", 340, 712, "#ff7a3a")
text("Spoilers", 382, 965, "#d84fd8")

# rotated axis titles
for s, x, y, c in [
    ("Pitch Angle (deg)", 158, 100, "#e05a5a"),
    ("Column Position (deg)", 75, 237, "#66bb66"),
    ("Roll Angle (deg)", 150, 466, "#7070e8"),
    ("Capt Cntl Whl Pos (deg)", 22, 582, "#dd4a4a"),
    ("Rt Inboard Ail Pos. (deg)", 97, 752, "#ff40a0"),
    ("Rt Outboard Ail Pos. (deg)", 119, 748, "#55b055"),
    ("Lt Outboard Ail Pos. (deg)", 141, 735, "#33cccc"),
    ("Lt Inboard Ail Pos. (deg)", 161, 730, "#ff8a5a"),
    ("Lt Inboard Elev Pos. (deg)", 1433, 420, "#ff8a5a"),
    ("Lt Outboard Elev Pos. (deg)", 1461, 431, "#33cccc"),
    ("Rt Inboard Elev Pos. (deg)", 1488, 425, "#ff40a0"),
    ("Rt Outboard Elev Pos. (deg)", 1516, 428, "#55b055"),
    ("Spoiler #12 (deg)", 1438, 971, "#6f6fe8"),
    ("Spoiler #4 (deg)", 1465, 965, "#e055e0"),
]:
    text(s, x, y, c, xanchor="center", angle=-90)

# header / footer
text("Anchorage AK, 9 Oct 2002", 237, 22, TEXT, size=25)
text("ANC03IA001", 1358, 22, TEXT, size=25, xanchor="right")
text("Overview2", 113, 1127, TEXT, size=25)
text("FDR Subframe Reference Number (sec)", 830, 1127, TEXT, size=19, italic=False, xanchor="center")

fig.update_layout(annotations=ann)
fig.write_html("out.html")
